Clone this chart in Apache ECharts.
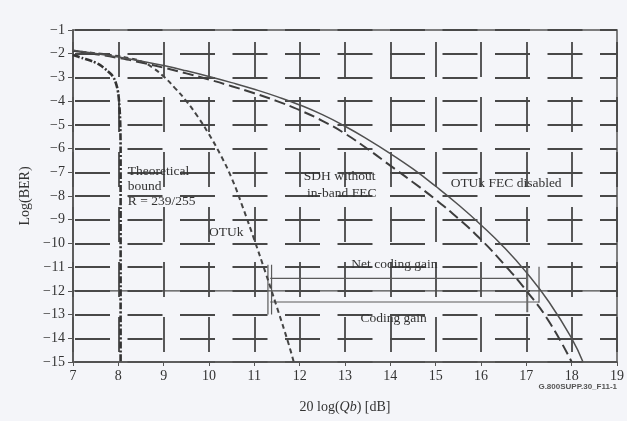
<!DOCTYPE html>
<html>
<head>
<meta charset="utf-8">
<script src="https://cdn.jsdelivr.net/npm/echarts@6/dist/echarts.min.js"></script>
<style>
html,body{margin:0;padding:0;background:#f4f5f9;}
#c{width:627px;height:421px;}
</style>
</head>
<body>
<div id="c"></div>
<script>
// ---- data ----
const xTicks = [7,8,9,10,11,12,13,14,15,16,17,18,19];
const yTicks = [-1,-2,-3,-4,-5,-6,-7,-8,-9,-10,-11,-12,-13,-14,-15];

const theoX = [7, 7.2, 7.45, 7.6, 7.74, 7.85, 7.92, 7.97, 8.0, 8.02, 8.04, 8.05, 8.05];
const theoY = [-2.05, -2.18, -2.34, -2.48, -2.69, -2.88, -3.1, -3.4, -3.7, -4.1, -4.8, -6, -15];

const otukX = [7, 7.5, 8, 8.25, 8.5, 8.75, 9, 9.25, 9.5, 9.75, 10, 10.25, 10.5, 10.75, 11, 11.25, 11.5, 11.75, 11.87];
const otukY = [-1.88, -1.98, -2.1, -2.19, -2.32, -2.58, -2.96, -3.45, -4.0, -4.65, -5.4, -6.25, -7.25, -8.5, -9.85, -11.25, -12.7, -14.2, -15];

const sdhX = [7, 7.5, 8, 8.5, 9, 9.5, 10, 10.5, 11, 11.5, 12, 12.5, 13, 13.5, 14, 14.5, 15, 15.5, 16, 16.5, 17, 17.5, 18];
const sdhY = [-1.88, -2.02, -2.18, -2.37, -2.59, -2.83, -3.09, -3.37, -3.67, -4.0, -4.38, -4.83, -5.37, -6.02, -6.72, -7.42, -8.15, -8.95, -9.84, -10.86, -11.99, -13.29, -15];

const fecOffX = [7, 7.5, 8, 8.5, 9, 9.5, 10, 10.5, 11, 11.5, 12, 12.5, 13, 13.5, 14, 14.5, 15, 15.5, 16, 16.5, 17, 17.5, 18, 18.25];
const fecOffY = [-1.85, -1.99, -2.14, -2.31, -2.5, -2.72, -2.96, -3.22, -3.5, -3.81, -4.16, -4.57, -5.06, -5.61, -6.21, -6.86, -7.59, -8.37, -9.22, -10.15, -11.22, -12.47, -14.0, -15];

const refLineX = [7, 19];      const refLineY = [-12, -12];
const netGainX = [11.35, 17.02]; const netGainY = [-11.47, -11.47];
const codGainX = [11.35, 17.28]; const codGainY = [-12.47, -12.47];
const mark1X = [11.3, 11.3];   const mark1Y = [-10.9, -13.0];
const mark2X = [11.38, 11.38]; const mark2Y = [-10.9, -13.0];
const mark3X = [17.02, 17.02]; const mark3Y = [-10.98, -12.9];
const mark4X = [17.28, 17.28]; const mark4Y = [-10.98, -12.5];

const zip = (xs, ys) => xs.map((x, i) => [x, ys[i]]);
const minus = v => String(v).replace('-', '\u2212');

const SERIF = '"Liberation Serif","DejaVu Serif",serif';
const INK = '#333';

const chart = echarts.init(document.getElementById('c'), null, {renderer: 'canvas'});

function lineS(name, data, style, extra) {
  return Object.assign({
    type: 'line', name, data, symbol: 'none', silent: true,
    lineStyle: style, z: 5
  }, extra || {});
}

const option = {
  backgroundColor: '#f4f5f9',
  animation: false,
  grid: {left: 73, right: 7, top: 30, bottom: 59, show: true, borderColor: '#555', borderWidth: 1.5, backgroundColor: 'transparent'},
  xAxis: {
    type: 'value', min: 7, max: 19, interval: 1,
    axisLine: {show: true, lineStyle: {color: '#555', width: 1.5}},
    axisTick: {show: true, length: 4, lineStyle: {color: '#555'}},
    axisLabel: {fontFamily: SERIF, fontSize: 14, color: '#333', margin: 7},
    splitLine: {show: true, lineStyle: {color: '#484848', width: 1.8, type: [35, 20], dashOffset: 43}},
    name: '20 log({i|Qb}) [dB]',
    nameLocation: 'middle', nameGap: 38,
    nameTextStyle: {fontFamily: SERIF, fontSize: 14, color: '#333',
      rich: {i: {fontFamily: SERIF, fontSize: 14, fontStyle: 'italic', color: '#333'}}}
  },
  yAxis: {
    type: 'value', min: -15, max: -1, interval: 1,
    axisLine: {show: true, lineStyle: {color: '#555', width: 1.5}},
    axisTick: {show: true, length: 5, lineStyle: {color: '#555'}},
    axisLabel: {fontFamily: SERIF, fontSize: 14, color: '#333', margin: 8, formatter: minus},
    splitLine: {show: true, lineStyle: {color: '#484848', width: 1.8, type: [35, 17.5], dashOffset: 50.5}},
    name: 'Log(BER)', nameLocation: 'middle', nameGap: 38, nameRotate: 90,
    nameTextStyle: {fontFamily: SERIF, fontSize: 14, color: '#333'}
  },
  series: [
    lineS('ref', zip(refLineX, refLineY), {color: '#4a4a4a', width: 1.1}),
    lineS('net', zip(netGainX, netGainY), {color: '#5a5a5a', width: 1.2}),
    lineS('cod', zip(codGainX, codGainY), {color: '#5a5a5a', width: 1.2}),
    lineS('m1', zip(mark1X, mark1Y), {color: '#5a5a5a', width: 1.2}),
    lineS('m2', zip(mark2X, mark2Y), {color: '#5a5a5a', width: 1.2}),
    lineS('m3', zip(mark3X, mark3Y), {color: '#6a6a6a', width: 2}),
    lineS('m4', zip(mark4X, mark4Y), {color: '#5a5a5a', width: 1.2}),
    lineS('Theoretical bound', zip(theoX, theoY), {color: '#333', width: 2.6, type: [7, 2, 2, 2]}, {smooth: 0.25}),
    lineS('OTUk', zip(otukX, otukY), {color: '#444', width: 2, type: [5, 3.5]}, {smooth: true}),
    lineS('SDH without in-band FEC', zip(sdhX, sdhY), {color: '#3d3d3d', width: 2, type: [11, 5]}, {smooth: true}),
    lineS('OTUk FEC disabled', zip(fecOffX, fecOffY), {color: '#505050', width: 1.5}, {smooth: true})
  ]
};
chart.setOption(option);

// annotations placed at data coordinates
const notes = [
  {x: 8.21, y: -6.65, text: 'Theoretical\nbound\nR = 239/255', lh: 15},
  {x: 10.0, y: -9.2, text: 'OTUk', lh: 15},
  {x: 12.09, y: -6.8, text: 'SDH without\n in-band FEC', lh: 17},
  {x: 15.33, y: -7.15, text: 'OTUk FEC disabled', lh: 15},
  {x: 13.14, y: -10.55, text: 'Net coding gain', lh: 15},
  {x: 13.34, y: -12.85, text: 'Coding gain', lh: 15}
];
const g = notes.map(n => {
  const p = chart.convertToPixel({gridIndex: 0}, [n.x, n.y]);
  return {type: 'text', x: p[0], y: p[1], z: 10, silent: true,
    style: {text: n.text, fontFamily: SERIF, fontSize: 13.5, fill: INK, lineHeight: n.lh}};
});
const corner = chart.convertToPixel({gridIndex: 0}, [19, -15]);
g.push({type: 'text', x: corner[0], y: corner[1] + 25, z: 10, silent: true,
  style: {text: 'G.800SUPP.30_F11-1', fontFamily: '"Liberation Sans",Arial,sans-serif', fontSize: 8, fontWeight: 'bold',
    fill: '#555', align: 'right', verticalAlign: 'middle'}});
chart.setOption({graphic: g});
</script>
</body>
</html>
